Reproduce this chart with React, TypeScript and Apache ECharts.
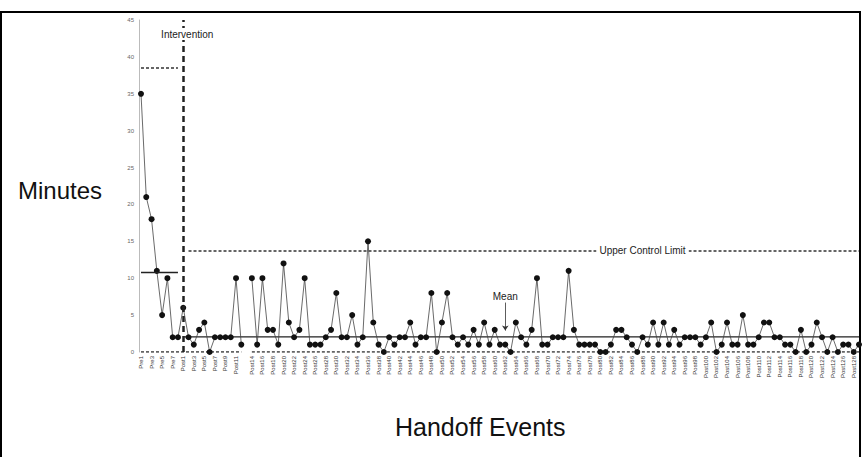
import React, { useEffect, useRef } from "react";
import * as echarts from "echarts";

const preCount = 8;
const postCount = 129;
const categories: string[] = [
  ...Array.from({ length: preCount }, (_, i) => `Pre${i + 1}`),
  ...Array.from({ length: postCount }, (_, i) => `Post${i + 1}`),
];

const preMinutes = [35, 21, 18, 11, 5, 10, 2, 2];
const postMinutes: (number | null)[] = [
  6, 2, 1, 3, 4, 0, 2, 2, 2, 2, 10, 1, null,
  10, 1, 10, 3, 3, 1, 12, 4, 2, 3,
  10, 1, 1, 1, 2, 3, 8, 2, 2, 5,
  1, 2, 15, 4, 1, 0, 2, 1, 2, 2,
  4, 1, 2, 2, 8, 0, 4, 8, 2, 1,
  2, 1, 3, 1, 4, 1, 3, 1, 1, 0,
  4, 2, 1, 3, 10, 1, 1, 2, 2, 2,
  11, 3, 1, 1, 1, 1, 0, 0, 1, 3,
  3, 2, 1, 0, 2, 1, 4, 1, 4, 1,
  3, 1, 2, 2, 2, 1, 2, 4, 0, 1,
  4, 1, 1, 5, 1, 1, 2, 4, 4, 2,
  2, 1, 1, 0, 3, 0, 1, 4, 2, 0,
  2, 0, 1, 1, 0, 1,
];
const minutes: (number | null)[] = [...preMinutes, ...postMinutes];

const preMean = 10.8;
const preUCL = 38.5;
const lcl = 0;
const postMean = 2.05;
const postUCL = 13.7;

const yTicks = { min: 0, max: 45, interval: 5 };

const FONT = "'Liberation Sans', Arial, Helvetica, sans-serif";

export default function App() {
  const ref = useRef<HTMLDivElement>(null);
  useEffect(() => {
    if (!ref.current) return;
    const chart = echarts.init(ref.current, undefined, { renderer: "svg" });
    const hidden = { color: "rgba(0,0,0,0)" };
    const textPoint = (name: string, coord: [number, number], extra: any = {}) => ({
      name,
      coord,
      symbol: "circle",
      symbolSize: 1,
      itemStyle: hidden,
      label: {
        show: true,
        position: "inside",
        formatter: name,
        fontFamily: FONT,
        fontSize: 10,
        color: "#222",
        ...extra,
      },
    });
    chart.setOption({
      animation: false,
      backgroundColor: "#fff",
      textStyle: { fontFamily: FONT },
      grid: { left: 141, right: 3, top: 20, bottom: 105, containLabel: false },
      xAxis: {
        type: "category",
        data: categories,
        boundaryGap: false,
        axisLine: { show: false },
        axisTick: { show: false },
        splitLine: { show: false },
        axisLabel: {
          rotate: 90,
          fontSize: 6,
          color: "#333",
          margin: 4,
          fontFamily: FONT,
          interval: (index: number) =>
            index <= 18 ? index % 2 === 0 : index >= 21 && index % 2 === 1,
        },
      },
      yAxis: {
        type: "value",
        min: yTicks.min,
        max: yTicks.max,
        interval: yTicks.interval,
        offset: 2,
        axisLine: { show: true, lineStyle: { color: "#bbb", width: 1 } },
        axisTick: { show: false },
        splitLine: { show: false },
        axisLabel: { fontSize: 6, color: "#666", margin: 5, fontFamily: FONT },
      },
      series: [
        {
          name: "LCL",
          type: "line",
          data: minutes.map((v) => (v === null ? null : lcl)),
          symbol: "none",
          connectNulls: false,
          lineStyle: { color: "#333", width: 1.5, type: [3, 2] },
          z: 1,
        },
        {
          name: "Post mean",
          type: "line",
          data: categories.map((_, i) => (i >= preCount ? postMean : null)),
          symbol: "none",
          lineStyle: { color: "#222", width: 1.3 },
          z: 1,
          markLine: {
            silent: true,
            symbol: ["none", "none"],
            label: { show: false },
            data: [
              { xAxis: 8, lineStyle: { color: "#222", width: 2.5, type: [6, 4] } },
              [
                { coord: [0, preMean], lineStyle: { color: "#222", width: 1.3, type: "solid" } },
                { coord: [7, preMean] },
              ],
              [
                { coord: [0, preUCL], lineStyle: { color: "#333", width: 1.5, type: [3, 2] } },
                { coord: [7, preUCL] },
              ],
              [
                { coord: [69, 6.7], symbol: "none", lineStyle: { color: "#333", width: 0.8, type: "solid" } },
                { coord: [69, 2.9], symbol: "arrow", symbolSize: 5 },
              ],
            ],
          },
        },
        {
          name: "Post UCL",
          type: "line",
          data: categories.map((_, i) => (i >= preCount + 1 ? postUCL : null)),
          symbol: "none",
          lineStyle: { color: "#333", width: 1.5, type: [3, 2] },
          z: 1,
          markPoint: {
            silent: true,
            data: [
              textPoint("Upper Control Limit", [95, postUCL], {
                backgroundColor: "#fff",
                padding: [1, 3],
              }),
            ],
          },
        },
        {
          name: "Minutes",
          type: "line",
          data: minutes,
          connectNulls: false,
          symbol: "circle",
          symbolSize: 6,
          showSymbol: true,
          showAllSymbol: true,
          itemStyle: { color: "#111" },
          lineStyle: { color: "#444", width: 0.8 },
          z: 3,
          markPoint: {
            silent: true,
            data: [
              textPoint("Intervention", [8, 43.1], {
                offset: [4, 0],
                backgroundColor: "#fff",
                padding: [1, 1],
              }),
              textPoint("Mean", [69, 7.5]),
            ],
          },
        },
      ],
      graphic: [
        {
          type: "rect",
          shape: { x: 1, y: 12, width: 859, height: 470 },
          style: { fill: "none", stroke: "#000", lineWidth: 2 },
          silent: true,
        },
        {
          type: "text",
          left: 18,
          top: 178,
          style: { text: "Minutes", font: `24px ${FONT}`, fill: "#111" },
        },
        {
          type: "text",
          left: 395,
          top: 414,
          style: { text: "Handoff Events", font: `25px ${FONT}`, fill: "#111" },
        },
      ],
    });
    return () => chart.dispose();
  }, []);
  return (
    <div
      ref={ref}
      style={{ position: "fixed", left: 0, top: 0, width: 862, height: 457, background: "#fff" }}
    />
  );
}
